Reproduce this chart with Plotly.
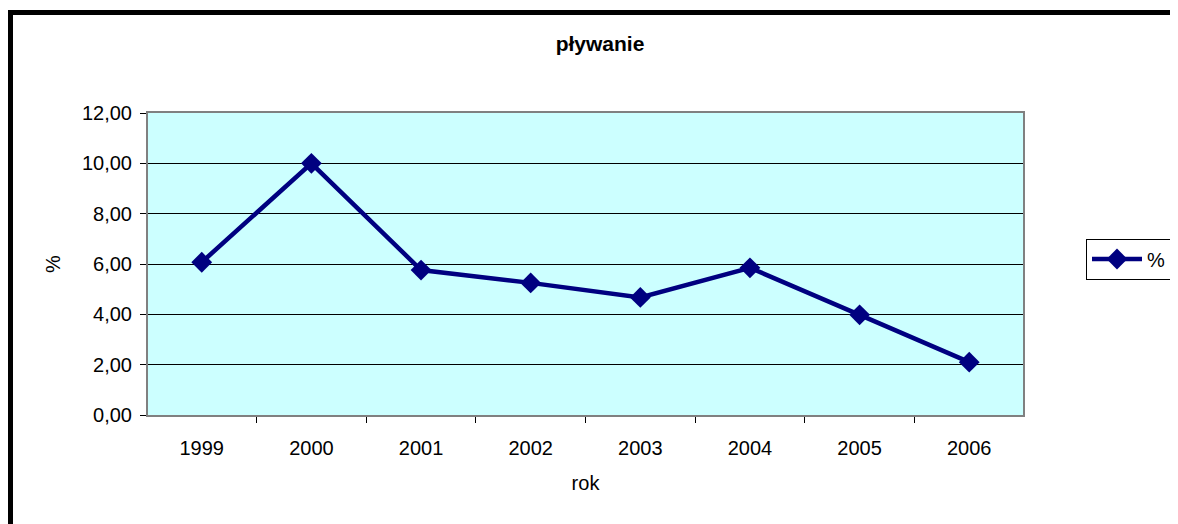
import plotly.graph_objects as go

years = ["1999", "2000", "2001", "2002", "2003", "2004", "2005", "2006"]
values = [6.07, 10.0, 5.76, 5.25, 4.67, 5.85, 3.98, 2.10]
y_ticks = [0, 2, 4, 6, 8, 10, 12]

OFF = 8  # page body margin
W, H = 1178 - OFF, 524 - OFF
# plot area in reference pixel coords
PL, PR, PT, PB = 148, 1023, 113, 415
L, R, T, B = PL - OFF, W - (PR - OFF), PT - OFF, H - (PB - OFF)
pw, ph = PR - PL, PB - PT

def px_x(x):
    return (x - PL) / pw

def px_y(y):
    return (PB - y) / ph

FONT = "Liberation Sans, Arial, sans-serif"
NAVY = "#000080"

fig = go.Figure()
fig.add_trace(go.Scatter(
    x=years, y=values, mode="lines+markers", name="%",
    line=dict(color=NAVY, width=4.5),
    marker=dict(symbol="diamond", size=16, color=NAVY),
))

fig.update_layout(
    width=W, height=H,
    margin=dict(l=L, r=R, t=T, b=B, autoexpand=False),
    paper_bgcolor="white",
    plot_bgcolor="#CCFFFF",
    separators=",.",
    font=dict(family=FONT, size=20, color="black"),
    title=dict(text="<b>pływanie</b>", x=px_x(600), xref="paper", xanchor="center",
               y=1 - (44 - OFF) / H, yanchor="middle", font=dict(size=21, family=FONT)),
    showlegend=True,
    legend=dict(x=px_x(1086), xanchor="left", y=px_y(259), yanchor="middle",
                bordercolor="black", borderwidth=1, bgcolor="white", itemwidth=50,
                font=dict(size=20, family=FONT)),
    xaxis=dict(
        type="category", tickson="boundaries", ticks="outside", ticklen=6,
        tickcolor="black", showgrid=False, showline=True, linecolor="#808080",
        linewidth=2, mirror=True, tickfont=dict(size=20), ticklabelstandoff=14,
        title=dict(text="rok", standoff=18, font=dict(size=20)),
    ),
    yaxis=dict(
        range=[0, 12], tickvals=y_ticks, tickformat=".2f", ticks="outside",
        ticklen=6, tickcolor="black", showgrid=True, gridcolor="black",
        gridwidth=1, showline=True, linecolor="#808080", linewidth=2, mirror=True,
        zeroline=False, tickfont=dict(size=20), ticklabelstandoff=4,
        title=dict(text="%", standoff=16, font=dict(size=20)),
    ),
    shapes=[dict(type="rect", xref="paper", yref="paper",
                 x0=px_x(10.5), x1=px_x(1178 + 20), y0=px_y(524 + 20), y1=px_y(12.5),
                 line=dict(color="black", width=5), layer="above")],
)

fig.write_html("out.html")
